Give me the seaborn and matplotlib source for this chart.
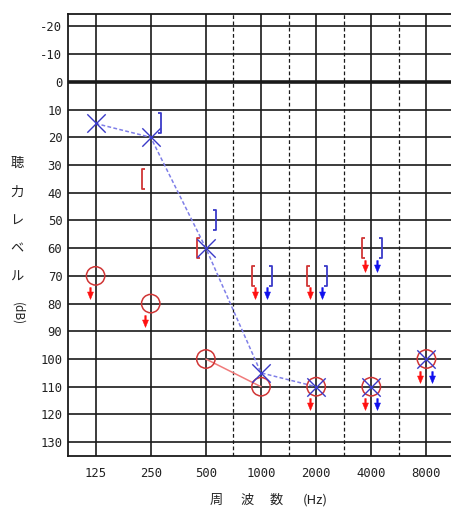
import numpy as np
import matplotlib
matplotlib.use("Agg")
import matplotlib.pyplot as plt
from matplotlib.path import Path
from matplotlib.transforms import ScaledTranslation
import seaborn as sns
import pandas as pd

# Test frequencies (Hz) and tick labels
freqs = [125, 250, 500, 1000, 2000, 4000, 8000]
freq_labels = ["125", "250", "500", "1000", "2000", "4000", "8000"]
level_ticks = [-20, -10, 0, 10, 20, 30, 40, 50, 60, 70, 80, 90, 100, 110, 120, 130]

# Air conduction, right ear (O) and left ear (X); scale-out flags mark "no response"
right_air = [70, 80, 100, 110, 110, 110, 100]
right_air_out = [True, True, False, False, True, True, True]
left_air = [15, 20, 60, 105, 110, 110, 100]
left_air_out = [False, False, False, False, False, True, True]

# Masked bone conduction, right "[" and left "]"
bone_freqs = [250, 500, 1000, 2000, 4000]
right_bone = [35, 60, 70, 70, 60]
right_bone_out = [False, False, True, True, True]
left_bone = [15, 50, 70, 70, 60]
left_bone_out = [False, False, True, True, True]

sns.set_style("white")
plt.rcParams["font.family"] = ["Noto Sans CJK JP", "DejaVu Sans"]

W, H = 451, 512
fig = plt.figure(figsize=(W / 100, H / 100), dpi=100)
ax = fig.add_axes([68 / W, (H - 456) / H, 386 / W, (456 - 14) / H])

ax.set_xscale("log", base=2)
ax.set_xlim(freqs[0] / np.sqrt(2), freqs[-1] * np.sqrt(2))
ax.set_ylim(135, -24.5)

# Grid: solid at each frequency, dashed at half-octaves above 500 Hz
for f in freqs:
    ax.axvline(f, color="#1a1a1a", lw=1.2, zorder=1)
for a, b in zip(freqs[2:-1], freqs[3:]):
    ax.axvline(np.sqrt(a * b), color="#1a1a1a", lw=0.9, ls=(0, (3, 2)), zorder=1)
for t in level_ticks:
    ax.axhline(t, color="#1a1a1a", lw=2.6 if t == 0 else 1.2, zorder=1)

ax.set_xticks(freqs)
ax.set_xticklabels(freq_labels)
ax.xaxis.set_minor_locator(matplotlib.ticker.NullLocator())
ax.set_yticks(level_ticks)
ax.set_yticklabels([str(t) for t in level_ticks])
ax.tick_params(axis="both", length=0, labelsize=8.8, colors="#222222")
ax.tick_params(axis="x", pad=8)
ax.tick_params(axis="y", pad=4)
for lab in ax.get_xticklabels() + ax.get_yticklabels():
    lab.set_fontfamily("DejaVu Sans Mono")
for s in ax.spines.values():
    s.set_visible(True)
    s.set_color("#1a1a1a")
    s.set_linewidth(1.3)

RED = "#d03535"
BLUE = "#3a3ac8"
RED_A = "#ff1010"
BLUE_A = "#1010ee"

# Connecting lines for responses
ra = pd.DataFrame({"f": freqs, "db": right_air, "out": right_air_out})
la = pd.DataFrame({"f": freqs, "db": left_air, "out": left_air_out})
sns.lineplot(data=ra[~ra.out], x="f", y="db", ax=ax, color="#f07a7a", lw=1.1, zorder=3)
sns.lineplot(data=la[~la.out], x="f", y="db", ax=ax, color="#7f7fe8", lw=1.1,
             linestyle=(0, (2.5, 1.5)), zorder=3)

# Air conduction symbols
sns.scatterplot(data=ra, x="f", y="db", ax=ax, marker="o", s=175,
                facecolor="none", edgecolor=RED, linewidth=1.1, zorder=4)
sns.scatterplot(data=la, x="f", y="db", ax=ax, marker="x", s=175,
                color=BLUE, linewidth=1.0, zorder=5)


def shifted(dx_px, dy_px):
    return ax.transData + ScaledTranslation(dx_px / 100, -dy_px / 100, fig.dpi_scale_trans)


# Bracket and arrow marker shapes
left_br = Path([(0.28, 1), (0, 1), (0, -1), (0.28, -1)])
right_br = Path([(-0.28, 1), (0, 1), (0, -1), (-0.28, -1)])
arrow = Path([(-0.12, 1), (0.12, 1), (0.12, 0.25), (0.5, 0.25), (0, -1),
              (-0.5, 0.25), (-0.12, 0.25), (-0.12, 1)], closed=True)

ax.plot(bone_freqs, right_bone, ls="none", marker=left_br, ms=15, mfc="none",
        mec=RED, mew=1.3, transform=shifted(-9, 0), zorder=4)
ax.plot(bone_freqs, left_bone, ls="none", marker=right_br, ms=15, mfc="none",
        mec=BLUE, mew=1.3, transform=shifted(10.5, 0), zorder=4)


def draw_arrows(xs, ys, flags, dx, color):
    px = [x for x, o in zip(xs, flags) if o]
    py = [y for y, o in zip(ys, flags) if o]
    ax.plot(px, py, ls="none", marker=arrow, ms=8.5, mfc=color, mec=color, mew=0.4,
            transform=shifted(dx, 17.5), zorder=6)


draw_arrows(freqs, right_air, right_air_out, -6, RED_A)
draw_arrows(freqs, left_air, left_air_out, 6, BLUE_A)
draw_arrows(bone_freqs, right_bone, right_bone_out, -6, RED_A)
draw_arrows(bone_freqs, left_bone, left_bone_out, 6, BLUE_A)

ax.set_xlabel("")
ax.set_ylabel("")

# Axis titles drawn one character per line, as on a printed audiogram
for ch, yp in zip(["聴", "力", "レ", "ベ", "ル"], [163, 192, 221, 249, 277]):
    fig.text(17 / W, 1 - yp / H, ch, ha="center", va="center", fontsize=9.5, color="#222222")
fig.text(18 / W, 1 - 314 / H, "(dB)", ha="center", va="center", fontsize=8.5,
         rotation=270, color="#222222")
for ch, xp in zip(["周", "波", "数", "(Hz)"], [216, 247, 276, 315]):
    fig.text(xp / W, 1 - 500 / H, ch, ha="center", va="center", fontsize=9.5, color="#222222")

fig.savefig("out.png", dpi=100)
